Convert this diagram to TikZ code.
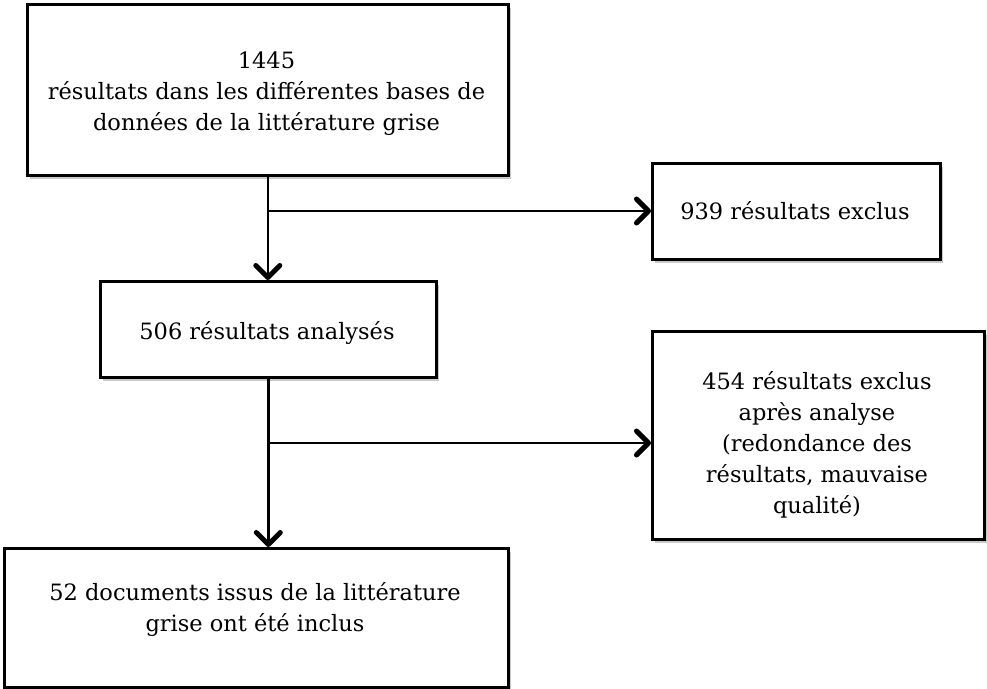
\documentclass[tikz,border=0pt]{standalone}
\usepackage{fontspec}
\setmainfont{DejaVu Serif}
\usetikzlibrary{arrows.meta,shadows}
\begin{document}
\begin{tikzpicture}[x=1pt,y=-1pt,
  box/.style={draw=black,line width=2.6pt,fill=white,inner sep=0pt,anchor=north west,
    drop shadow={shadow xshift=2.5pt,shadow yshift=-3.5pt,opacity=0.3,fill=black!70}},
  txt/.style={align=center,font=\fontsize{22.5}{31}\selectfont,inner sep=0pt,anchor=base},
  conn/.style={line width=2.6pt},
  arr/.style={conn,-{Straight Barb[round,length=12pt,width=24pt,line width=5pt]}}
]
\useasboundingbox (0,0) rectangle (987,688);
% boxes
\node[box,minimum width=481pt,minimum height=171pt] (b1) at (26,3) {};
\node[box,minimum width=288pt,minimum height=96pt] (b939) at (651,162) {};
\node[box,minimum width=336pt,minimum height=96pt] (b2) at (99,280) {};
\node[box,minimum width=332pt,minimum height=208pt] (b454) at (651,330) {};
\node[box,minimum width=504pt,minimum height=139pt] (b4) at (3,547) {};
% texts
\node[txt] (t1) at (266.5,130) {1445\\résultats dans les différentes bases de\\données de la littérature grise};
\node[txt] (t939) at (795,219) {939 résultats exclus};
\node[txt] (t2) at (267,339) {506 résultats analysés};
\node[txt] (t454) at (817,513) {454 résultats exclus\\après analyse\\(redondance des\\résultats, mauvaise\\qualité)};
\node[txt] (t4) at (255,631) {52 documents issus de la littérature\\grise ont été inclus};
% connectors
\coordinate (j1) at (267,211);
\coordinate (j2) at (267,443);
\draw[arr] (b1.south) -- (b1.south |- b2.north);
\draw[arr] (j1) -- (j1 -| b939.west);
\draw[arr] (b2.south) -- (b2.south |- b4.north);
\draw[arr] (j2) -- (j2 -| b454.west);
\end{tikzpicture}
\end{document}
